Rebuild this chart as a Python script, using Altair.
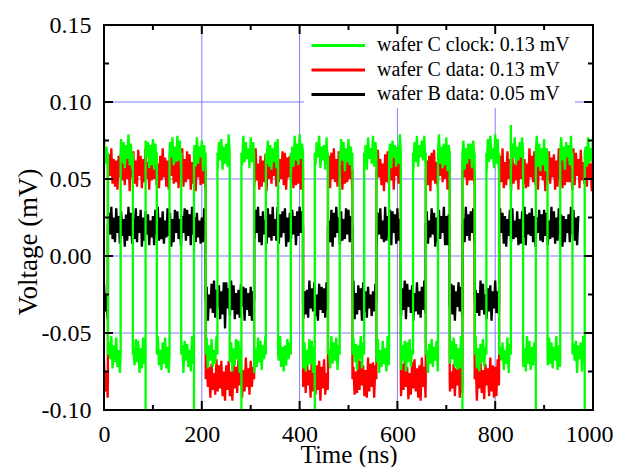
import altair as alt
import pandas as pd

# ---------------- values ----------------
series_names = ["wafer C clock: 0.13 mV", "wafer C data: 0.13 mV", "wafer B data: 0.05 mV"]
series_colors = ["#00ff00", "#ff0000", "#000000"]

# axis ranges, labels, grid and tick positions
X_DOMAIN = [0, 1000]
Y_DOMAIN = [-0.10, 0.15]
x_label_values = [0, 200, 400, 600, 800, 1000]
y_label_values = [-0.10, -0.05, 0.00, 0.05, 0.10, 0.15]
x_grid_values = [200, 400, 600, 800]
y_grid_values = [-0.05, 0.00, 0.05, 0.10]
x_major_ticks = [200, 400, 600, 800]
x_minor_ticks = [100, 300, 500, 700, 900]
y_major_ticks = [-0.05, 0.00, 0.05, 0.10]
y_minor_ticks = [-0.075, -0.025, 0.025, 0.075, 0.125]

# high / low levels of each trace (mV)
clock_high, clock_low = 0.067, -0.064
dataC_high, dataC_low = 0.056, -0.080
dataB_high, dataB_low = 0.019, -0.029

# switching times (ns)
clock_edges_ns = [8, 34, 59, 85, 108, 134, 158, 184, 208, 232, 257, 281, 307, 331,
                  356, 382, 407, 431, 458, 482, 508, 532, 557, 583, 607, 632, 658,
                  683, 707, 733, 758, 782, 808, 832, 857, 883, 907, 933, 958, 983]
data_edges_ns = [8, 208, 307, 407, 458, 508, 557, 607, 658, 707, 733, 758, 808]
clock_start_high = True
data_start_high = False
clock_end_ns = 1000
dataC_end_ns = 1000
dataB_end_ns = 970

# over/undershoot spikes of the clock at some edges
clock_spike_ns = [85, 184, 281, 431, 733, 832, 883, 983]
clock_spike_mv = [-0.100, -0.100, -0.100, -0.100, -0.100, 0.085, -0.100, -0.100]

# noise around the level, one value every 2.5 ns, in 0.001 mV
SAMPLE_NS = 2.5
clock_noise = [
    10, -7, 4, -11, 8, -3, 12, -9, 6, -5, 11, -8, 3, -12, 9, -6, 7, -10, 5, -4,
    12, -8, 6, -11, 3, -7, 10, -5, 9, -12, 4, -9, 11, -6, 8, -3, 7, -10, 5, -8,
    9, -11, 6, -4, 12, -7, 3, -10, 8, -6, 11, -9, 5, -12, 7, -3, 10, -8, 4, -6,
    11, -5, 8, -10, 6, -12, 9, -4, 7, -8, 3, -11, 12, -6, 5, -9, 10, -7, 4, -3,
    8, -12, 5, -7, 11, -9, 6, -4, 10, -8, 3, -6, 12, -10, 7, -5, 9, -11, 4, -7,
    6, -9, 12, -5, 8, -11, 4, -7, 10, -3, 9, -12, 5, -8, 11, -6, 7, -4, 3, -10,
    10, -6, 7, -12, 4, -8, 11, -5, 9, -10, 6, -3, 12, -7, 8, -9, 5, -11, 3, -6,
    7, -10, 9, -4, 12, -8, 5, -11, 6, -7, 10, -3, 8, -12, 4, -9, 11, -5, 6, -8,
    12, -4, 6, -9, 8, -11, 3, -7, 10, -6, 9, -12, 5, -8, 7, -3, 11, -10, 4, -5,
    5, -11, 10, -7, 3, -9, 12, -6, 8, -4, 11, -10, 6, -8, 9, -5, 7, -12, 3, -6,
    9, -8, 4, -12, 11, -5, 7, -10, 6, -3, 12, -9, 8, -6, 5, -11, 10, -4, 3, -7,
    11, -9, 7, -5, 10, -12, 3, -8, 9, -6, 4, -11, 12, -7, 6, -10, 8, -3, 5, -9,
    4, -7, 12, -10, 6, -4, 9, -11, 8, -5, 10, -8, 3, -12, 7, -6, 11, -9, 5, -3,
    8, -5, 11, -9, 3, -12, 7, -6, 10, -8, 5, -4, 9, -11, 12, -7, 4, -10, 6, -8,
    10, -12, 5, -6, 9, -3, 11, -8, 7, -10, 4, -9, 12, -5, 8, -11, 3, -7, 6, -4,
    6, -10, 8, -3, 12, -9, 4, -11, 7, -5, 10, -8, 5, -12, 9, -6, 11, -4, 3, -10,
    12, -7, 9, -11, 5, -4, 8, -10, 3, -6, 11, -12, 7, -9, 6, -3, 10, -8, 4, -5,
    7, -3, 10, -8, 4, -11, 12, -6, 9, -10, 5, -7, 8, -4, 11, -9, 6, -12, 3, -8,
    9, -12, 3, -7, 11, -6, 8, -9, 5, -4, 12, -10, 6, -8, 10, -5, 4, -11, 7, -3,
    5, -8, 11, -10, 7, -4, 9, -12, 6, -3, 8, -11, 12, -6, 4, -9, 10, -7, 3, -5,
    11, -6, 8, -9, 4, -12, 7, -5, 10, -8, 3, -10, 9, -4, 12, -7, 5, -11, 6, -8,
]
dataC_noise = [
    13, -8, 5, -12, 10, -4, 14, -9, 7, -11, 6, -13, 9, -5, 12, -7, 4, -10, 11, -6,
    8, -14, 10, -5, 12, -9, 6, -11, 13, -4, 9, -12, 7, -8, 14, -6, 5, -13, 10, -7,
    11, -6, 13, -10, 4, -12, 9, -7, 14, -5, 8, -11, 6, -13, 10, -4, 12, -9, 7, -8,
    6, -12, 9, -4, 14, -11, 7, -8, 12, -6, 10, -13, 5, -9, 11, -14, 8, -5, 13, -10,
    14, -9, 6, -13, 11, -5, 8, -12, 10, -7, 4, -10, 13, -8, 9, -6, 12, -11, 5, -14,
    9, -7, 12, -11, 5, -14, 10, -6, 8, -9, 13, -4, 11, -12, 6, -8, 14, -5, 7, -10,
    12, -5, 8, -10, 14, -7, 4, -13, 9, -11, 6, -8, 10, -14, 13, -6, 7, -9, 11, -4,
    5, -11, 14, -8, 7, -6, 12, -10, 11, -13, 8, -5, 9, -7, 4, -12, 13, -10, 6, -9,
    10, -13, 7, -5, 11, -9, 13, -4, 6, -12, 14, -8, 5, -10, 9, -7, 12, -14, 8, -6,
    13, -10, 4, -7, 9, -12, 11, -6, 14, -8, 7, -11, 12, -5, 10, -13, 6, -9, 5, -8,
    7, -6, 11, -14, 8, -10, 5, -9, 13, -7, 12, -4, 9, -11, 6, -12, 14, -8, 10, -5,
    11, -12, 9, -6, 13, -5, 7, -10, 4, -14, 10, -8, 12, -9, 5, -7, 11, -13, 8, -4,
    6, -9, 14, -11, 10, -7, 12, -5, 8, -13, 4, -10, 11, -6, 13, -8, 7, -12, 9, -14,
    14, -5, 8, -12, 6, -10, 9, -14, 11, -7, 13, -9, 5, -11, 10, -4, 12, -8, 7, -6,
    9, -13, 12, -8, 5, -6, 10, -11, 7, -4, 14, -12, 8, -9, 11, -5, 6, -10, 13, -7,
    12, -7, 5, -10, 13, -14, 8, -6, 11, -9, 6, -13, 10, -4, 7, -11, 14, -8, 9, -12,
    8, -11, 13, -4, 9, -8, 14, -12, 5, -10, 12, -6, 7, -14, 11, -9, 4, -7, 10, -13,
    13, -6, 10, -9, 7, -12, 4, -11, 14, -5, 9, -8, 12, -10, 6, -13, 11, -4, 8, -7,
    5, -14, 11, -7, 12, -9, 8, -5, 10, -13, 6, -11, 14, -6, 9, -12, 7, -10, 13, -8,
    10, -8, 6, -13, 14, -10, 11, -4, 7, -12, 13, -7, 5, -9, 12, -11, 8, -6, 4, -14,
    12, -9, 7, -11, 5, -8, 13, -6, 10, -14, 9, -5, 11, -12, 6, -10, 14, -7, 8, -4,
]
dataB_noise = [
    11, -7, 4, -12, 9, -5, 13, -8, 6, -10, 12, -4, 7, -11, 10, -6, 5, -13, 8, -9,
    13, -6, 9, -11, 5, -8, 12, -10, 7, -4, 11, -13, 6, -9, 10, -5, 8, -12, 4, -7,
    7, -12, 11, -5, 13, -9, 6, -8, 10, -11, 4, -7, 12, -6, 9, -13, 5, -10, 11, -4,
    10, -8, 5, -13, 7, -4, 12, -9, 11, -6, 8, -12, 13, -5, 6, -10, 9, -7, 4, -11,
    6, -10, 12, -7, 9, -13, 4, -5, 11, -8, 13, -11, 7, -4, 10, -12, 6, -9, 12, -18,
    12, -5, 8, -10, 13, -6, 10, -12, 5, -9, 7, -11, 11, -4, 9, -13, 8, -6, 5, -10,
    9, -13, 6, -8, 11, -4, 13, -10, 7, -12, 10, -5, 4, -11, 12, -7, 8, -9, 13, -6,
    5, -9, 13, -11, 8, -7, 10, -4, 12, -13, 6, -10, 9, -8, 11, -5, 7, -12, 10, -6,
    13, -4, 10, -12, 6, -9, 7, -11, 13, -5, 8, -7, 12, -10, 4, -13, 11, -6, 9, -8,
    8, -11, 12, -6, 4, -10, 11, -13, 9, -7, 13, -4, 6, -12, 10, -9, 5, -8, 12, -5,
    11, -10, 7, -4, 13, -12, 5, -9, 10, -6, 8, -13, 12, -7, 6, -11, 9, -5, 4, -10,
    6, -7, 11, -13, 9, -5, 12, -8, 4, -10, 13, -9, 7, -6, 11, -12, 10, -4, 8, -11,
    12, -9, 5, -10, 8, -6, 13, -12, 11, -4, 7, -8, 10, -13, 5, -7, 12, -9, 6, -11,
    9, -6, 13, -8, 10, -11, 4, -7, 12, -5, 9, -13, 6, -10, 11, -8, 7, -4, 13, -12,
    7, -12, 8, -5, 11, -9, 10, -13, 6, -4, 12, -7, 9, -11, 5, -10, 13, -6, 8, -9,
    10, -4, 12, -11, 7, -8, 5, -10, 13, -6, 11, -9, 4, -12, 8, -7, 10, -13, 6, -5,
    13, -8, 6, -9, 12, -4, 9, -11, 7, -13, 5, -6, 11, -10, 12, -8, 4, -7, 10, -12,
    5, -11, 10, -7, 13, -12, 8, -5, 9, -6, 12, -10, 7, -13, 6, -4, 11, -9, 8, -10,
    11, -6, 9, -12, 4, -8, 13, -7, 10, -11, 6, -9, 12, -5, 8, -13, 7, -10, 5, -4,
    8, -10, 13, -5, 11, -9, 6, -12, 7, -4, 10, -11, 9, -8, 13, -6, 5, -12, 11, -7,
]


# ---------------- build the trace tables ----------------
def build_trace(noise, hi, lo, edges, start_high, t_end, spikes):
    rows = []
    state = start_high
    k = 0

    def level(s):
        return hi if s else lo

    for i, n in enumerate(noise):
        t = i * SAMPLE_NS
        if t > t_end:
            break
        while k < len(edges) and edges[k] <= t:
            te = edges[k]
            rows.append((te, level(state)))
            if te in spikes:
                rows.append((te, spikes[te]))
            state = not state
            rows.append((te, level(state)))
            k += 1
        rows.append((t, level(state) + n / 1000.0))
    return pd.DataFrame({"t": [r[0] for r in rows],
                         "v": [r[1] for r in rows],
                         "seq": list(range(len(rows)))})


clock_df = build_trace(clock_noise, clock_high, clock_low, clock_edges_ns, clock_start_high,
                       clock_end_ns, dict(zip(clock_spike_ns, clock_spike_mv)))
dataC_df = build_trace(dataC_noise, dataC_high, dataC_low, data_edges_ns, data_start_high,
                       dataC_end_ns, {})
dataB_df = build_trace(dataB_noise, dataB_high, dataB_low, data_edges_ns, data_start_high,
                       dataB_end_ns, {})

# ---------------- chart ----------------
W, H = 489, 385
FONT = "Liberation Serif"
GRID_COLOR = "#7f7fff"
MAJOR_LEN, MINOR_LEN = 9, 5

x_scale = alt.Scale(domain=X_DOMAIN, nice=False, zero=False)
y_scale = alt.Scale(domain=Y_DOMAIN, nice=False, zero=False)

x_axis = alt.Axis(title="Time (ns)", values=x_label_values, format="d", grid=False,
                  ticks=False, tickSize=0, domain=False, labelFont=FONT, labelFontSize=24,
                  labelColor="black", labelPadding=12, labelFlush=False, labelOverlap=False,
                  labelOffset={"condition": {"test": "datum.value == 1000", "value": -4},
                               "value": 0},
                  titleFont=FONT, titleFontSize=25, titleFontWeight="normal",
                  titleColor="black", titleY=52, titleBaseline="alphabetic")
y_axis = alt.Axis(title="Voltage (mV)", values=y_label_values,
                  labelExpr="datum.value < 0 ? '-' + format(-datum.value, '.2f') : format(datum.value, '.2f')",
                  grid=False, ticks=False, tickSize=0, domain=False, labelFont=FONT,
                  labelFontSize=24, labelColor="black", labelPadding=13, labelFlush=False,
                  labelOverlap=False, titleFont=FONT, titleFontSize=27,
                  titleFontWeight="normal", titleColor="black", titleAngle=270,
                  titleX=-68, titleY=216.5, titleAlign="center", titleBaseline="alphabetic")


def X(field):
    return alt.X(f"{field}:Q", scale=x_scale, axis=x_axis)


def Y(field):
    return alt.Y(f"{field}:Q", scale=y_scale, axis=y_axis)


layers = []

# grid
layers.append(alt.Chart(pd.DataFrame({"g": x_grid_values})).mark_rule(
    color=GRID_COLOR, strokeWidth=1).encode(x=X("g")))
layers.append(alt.Chart(pd.DataFrame({"g": y_grid_values})).mark_rule(
    color=GRID_COLOR, strokeWidth=1).encode(y=Y("g")))

# traces (black below, green on top)
for df, color in [(dataB_df, series_colors[2]), (dataC_df, series_colors[1]),
                  (clock_df, series_colors[0])]:
    layers.append(alt.Chart(df).mark_line(color=color, strokeWidth=2.3, clip=True,
                                          strokeJoin="bevel").encode(
        x=X("t"), y=Y("v"), order=alt.Order("seq:Q")))

# legend
one = alt.Data(values=[{"k": 1}])
layers.append(alt.Chart(one).mark_rect(color="white").encode(
    x=alt.value(200), x2=alt.value(471), y=alt.value(0), y2=alt.value(83)))
for i, (name, color) in enumerate(zip(series_names, series_colors)):
    row_y = 20.5 + 24.5 * i
    layers.append(alt.Chart(one).mark_rule(color=color, strokeWidth=2.8).encode(
        x=alt.value(207.5), x2=alt.value(261), y=alt.value(row_y)))
    layers.append(alt.Chart(one).mark_text(
        align="left", baseline="alphabetic", font=FONT, fontSize=20, color="black",
        text=name).encode(x=alt.value(273), y=alt.value(row_y + 5.5)))

# inward ticks on all four sides
for vals, ln in [(x_major_ticks, MAJOR_LEN), (x_minor_ticks, MINOR_LEN)]:
    d = pd.DataFrame({"tv": vals})
    layers.append(alt.Chart(d).mark_rule(color="black", strokeWidth=2).encode(
        x=X("tv"), y=alt.value(H - ln), y2=alt.value(H)))
    layers.append(alt.Chart(d).mark_rule(color="black", strokeWidth=2).encode(
        x=X("tv"), y=alt.value(0), y2=alt.value(ln)))
for vals, ln in [(y_major_ticks, MAJOR_LEN), (y_minor_ticks, MINOR_LEN)]:
    d = pd.DataFrame({"tv": vals})
    layers.append(alt.Chart(d).mark_rule(color="black", strokeWidth=2).encode(
        y=Y("tv"), x=alt.value(0), x2=alt.value(ln)))
    layers.append(alt.Chart(d).mark_rule(color="black", strokeWidth=2).encode(
        y=Y("tv"), x=alt.value(W - ln), x2=alt.value(W)))

# frame
layers.append(alt.Chart(one).mark_rect(filled=False, stroke="black", strokeWidth=2).encode(
    x=alt.value(0), x2=alt.value(W), y=alt.value(0), y2=alt.value(H)))

chart = alt.layer(*layers).properties(
    width=W, height=H,
    padding={"left": 96, "top": 17, "right": 20, "bottom": 57},
    autosize=alt.AutoSizeParams(type="none"),
    background="white",
).configure_view(stroke=None)

chart.save("out.html", embed_options={"renderer": "svg", "actions": False})
